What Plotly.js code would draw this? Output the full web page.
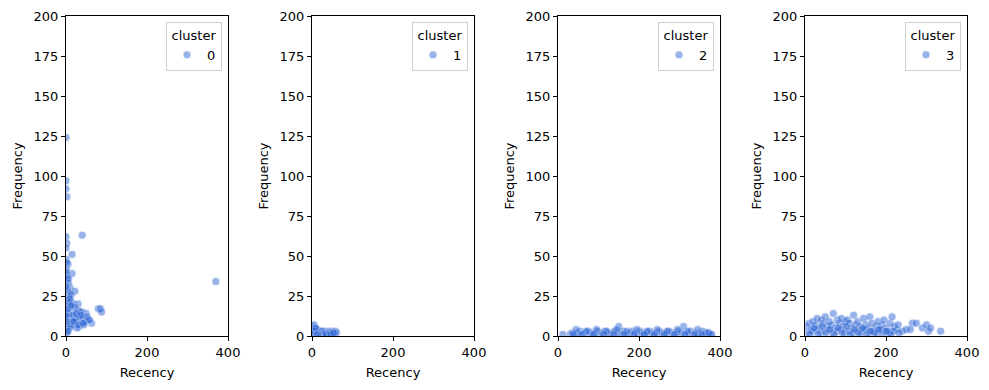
<!DOCTYPE html>
<html>
<head>
<meta charset="utf-8">
<script src="https://cdn.plot.ly/plotly-3.0.1.min.js"></script>
<style>html,body{margin:0;padding:0;background:#fff;}#chart{width:989px;height:390px;}</style>
</head>
<body>
<div id="chart"></div>
<script>
// Cluster labels
const clusters = ['0', '1', '2', '3'];

// Cluster 0
const recency0 = [0,0,0,2,0,2,40,15,0,5, 15,3,10,370,22,5,30,20,40,50, 45,80,85,88,63,35,25,10,15,0, 1,3,6,8,12,2,4,7,0,1, 2,5,9,14,18,20,25,28,32,38, 42,48,55,30,22,12,8,4,1,0, 3,6,10,16,24,33,44,52,58,27, 36,18,11,2,0,5,7,13,1,3, 4,9,14,19,26,31,37,43,6,2];
const frequency0 = [124,97,92,87,62,58,63,51,48,45, 39,35,30,34,28,25,20,20,15,14, 12,17,17,15,8,10,8,12,15,55, 42,38,33,27,22,18,14,10,5,8, 3,6,5,9,12,7,14,10,12,8, 11,9,10,16,18,20,24,29,40,31, 20,16,19,13,11,6,7,12,10,5, 15,9,6,2,12,3,21,26,13,9, 17,23,19,9,14,7,13,8,36,46];

// Cluster 1
const recency1 = [2,5,8,10,12,15,18,20,22,25, 28,30,32,35,38,40,42,45,48,50, 52,55,58,60,3,7,11,14,17,24, 27,33,36,44,47,53,1,6,9,13];
const frequency1 = [6,7,5,4,3,2,3,2,1,3, 2,1,3,2,1,2,3,1,2,3, 2,1,3,2,1,2,4,1,2,3, 1,2,1,2,1,2,1,3,5,1];

// Cluster 2
const recency2 = [12,30,35,42,48,55,62,68,75,80, 86,92,98,105,110,116,122,128,135,140, 146,150,155,160,166,172,178,184,190,196, 202,208,214,220,226,232,238,244,250,256, 262,268,274,280,286,292,298,304,310,316, 322,328,334,340,346,352,358,364,370,376, 45,70,95,120,145,170,195,220,245,270, 295,320,345,365,38,58,88,113,138,163, 188,213,238,263,288,313,338,355,372,380];
const frequency2 = [1,1,2,1,2,3,1,2,3,2, 1,2,3,1,2,3,2,1,2,3, 2,6,1,3,2,1,2,3,2,1, 3,2,1,2,3,2,1,2,3,2, 1,2,3,2,1,2,3,2,6,1, 2,3,1,2,1,2,3,1,2,1, 4,3,4,3,4,3,4,3,4,3, 4,3,4,2,1,1,1,1,1,1, 1,1,1,1,1,1,1,1,2,1];

// Cluster 3
const recency3 = [5,10,15,20,25,30,35,40,45,50, 55,60,65,70,75,80,85,90,95,100, 105,110,115,120,125,130,135,140,145,150, 155,160,165,170,175,180,185,190,195,200, 205,210,215,220,225,230,240,250,265,275, 290,300,305,310,335,8,18,28,38,48, 58,68,78,88,98,108,118,128,138,148, 158,168,178,188,198,208,218,12,32,52, 72,92,112,132,152,172,192,212,22,42, 62,82,102,122,142,162,182,202,232,260];
const frequency3 = [6,8,4,9,7,11,5,10,8,12, 6,9,7,14,5,10,8,11,6,9, 10,8,5,13,7,9,6,4,11,7, 5,12,8,3,6,9,4,7,10,5, 3,8,12,6,4,7,3,4,8,8, 5,7,3,5,3,2,3,4,2,3, 4,2,3,4,2,3,2,3,2,4, 2,3,2,4,3,2,3,1,1,2, 1,2,1,2,1,2,1,1,5,6, 4,5,6,4,5,3,4,3,2,4];

const xTicks = [0, 200, 400];
const yTicks = [0, 25, 50, 75, 100, 125, 150, 175, 200];

const recencies = [recency0, recency1, recency2, recency3];
const frequencies = [frequency0, frequency1, frequency2, frequency3];

const xDomains = [[66/989, 228/989], [312/989, 474/989], [558/989, 720/989], [805/989, 967/989]];
const yDomain = [1 - 336/390, 1 - 16/390];
const legendX = [222/989, 468/989, 714/989, 961/989];

const font = {family: 'DejaVu Sans, sans-serif', size: 13, color: '#000'};
const traces = [];
const layout = {
  width: 989, height: 390,
  margin: {l: 0, r: 0, t: 0, b: 0},
  paper_bgcolor: '#fff', plot_bgcolor: '#fff',
  font: font,
  showlegend: true
};

clusters.forEach((c, i) => {
  const n = i === 0 ? '' : String(i + 1);
  traces.push({
    type: 'scatter', mode: 'markers',
    x: recencies[i], y: frequencies[i],
    name: c,
    xaxis: 'x' + n, yaxis: 'y' + n,
    legend: 'legend' + n,
    marker: {color: 'rgb(50,105,215)', opacity: 0.5, size: 8, line: {color: '#fff', width: 0.6}},
    hoverinfo: 'x+y'
  });
  layout['xaxis' + n] = {
    domain: xDomains[i], anchor: 'y' + n, range: [0, 400],
    tickmode: 'array', tickvals: xTicks, ticktext: xTicks.map(String),
    showline: true, mirror: true, linecolor: '#000', linewidth: 1,
    ticks: 'outside', ticklen: 4, tickcolor: '#000', showgrid: false, zeroline: false,
    automargin: false,
    title: {text: 'Recency', font: font, standoff: 9}
  };
  layout['yaxis' + n] = {
    domain: yDomain, anchor: 'x' + n, range: [0, 200],
    tickmode: 'array', tickvals: yTicks, ticktext: yTicks.map(String),
    showline: true, mirror: true, linecolor: '#000', linewidth: 1,
    ticks: 'outside', ticklen: 4, tickcolor: '#000', showgrid: false, zeroline: false,
    automargin: false,
    title: {text: 'Frequency', font: font, standoff: 8}
  };
  layout['legend' + n] = {
    x: legendX[i], y: 1 - 22/390, xanchor: 'right', yanchor: 'top',
    xref: 'paper', yref: 'paper',
    bgcolor: 'rgba(255,255,255,0.8)', bordercolor: '#d0d0d0', borderwidth: 1,
    font: font,
    title: {text: 'cluster', side: 'top center', font: font},
    itemwidth: 30
  };
});

Plotly.newPlot('chart', traces, layout, {displayModeBar: false, staticPlot: true});
</script>
</body>
</html>
